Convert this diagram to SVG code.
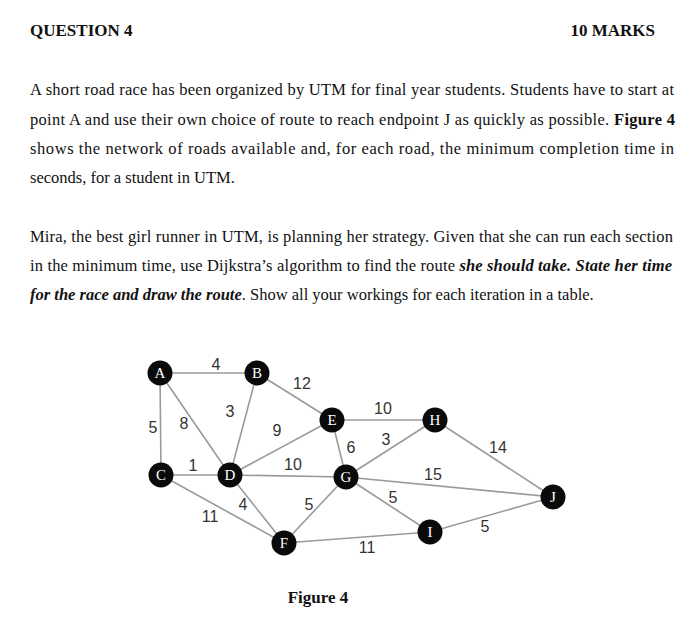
<svg xmlns="http://www.w3.org/2000/svg" width="700" height="632" viewBox="0 0 700 632">
<style>
.t{font-family:"Liberation Serif","Times New Roman",serif;font-size:16.5px;fill:#111}
.h{font-family:"Liberation Serif","Times New Roman",serif;font-size:17px;font-weight:bold;fill:#111}
.b{font-weight:bold}
.bi{font-weight:bold;font-style:italic}
.e{stroke:#9a9a9a;stroke-width:1.6;fill:none}
.n{fill:#0a0a0a}
.nl{font-family:"Liberation Serif","Times New Roman",serif;font-size:15px;fill:#fff;text-anchor:middle;dominant-baseline:central}
.w{font-family:"Liberation Sans",Arial,sans-serif;font-size:16px;fill:#333;text-anchor:middle;dominant-baseline:central}
</style>
<rect width="700" height="632" fill="#fff"/>
<g id="header">
<text class="h" x="30" y="36">QUESTION 4</text>
<text class="h" x="655" y="36" text-anchor="end">10 MARKS</text>
</g>
<g id="para1">
<text class="t" x="30" y="95" textLength="644" lengthAdjust="spacing">A short road race has been organized by UTM for final year students. Students have to start at</text>
<text class="t" x="30" y="125" textLength="645" lengthAdjust="spacing">point A and use their own choice of route to reach endpoint J as quickly as possible. <tspan class="b">Figure 4</tspan></text>
<text class="t" x="30" y="154" textLength="644" lengthAdjust="spacing">shows the network of roads available and, for each road, the minimum completion time in</text>
<text class="t" x="30" y="183">seconds, for a student in UTM.</text>
</g>
<g id="para2">
<text class="t" x="30" y="242" textLength="643" lengthAdjust="spacing">Mira, the best girl runner in UTM, is planning her strategy. Given that she can run each section</text>
<text class="t" x="30" y="271" textLength="642" lengthAdjust="spacing">in the minimum time, use Dijkstra’s algorithm to find the route <tspan class="bi">she should take. State her time</tspan></text>
<text class="t" x="30" y="300"><tspan class="bi">for the race and draw the route</tspan>.  Show all your workings for each iteration in a table.</text>
</g>
<g id="connectors">
<line class="e" x1="160" y1="373" x2="257" y2="373"/>
<line class="e" x1="160" y1="373" x2="161" y2="475"/>
<line class="e" x1="160" y1="373" x2="230" y2="475"/>
<line class="e" x1="257" y1="373" x2="230" y2="475"/>
<line class="e" x1="257" y1="373" x2="332" y2="420"/>
<line class="e" x1="161" y1="475" x2="230" y2="475"/>
<line class="e" x1="161" y1="475" x2="284" y2="543"/>
<line class="e" x1="230" y1="475" x2="332" y2="420"/>
<line class="e" x1="230" y1="475" x2="346" y2="477"/>
<line class="e" x1="230" y1="475" x2="284" y2="543"/>
<line class="e" x1="332" y1="420" x2="346" y2="477"/>
<line class="e" x1="332" y1="420" x2="435" y2="420"/>
<line class="e" x1="346" y1="477" x2="435" y2="420"/>
<line class="e" x1="346" y1="477" x2="553" y2="497"/>
<line class="e" x1="346" y1="477" x2="430" y2="532"/>
<line class="e" x1="346" y1="477" x2="284" y2="543"/>
<line class="e" x1="284" y1="543" x2="430" y2="532"/>
<line class="e" x1="435" y1="420" x2="553" y2="497"/>
<line class="e" x1="430" y1="532" x2="553" y2="497"/>
</g>
<g id="weights">
<text class="w" x="216" y="364">4</text>
<text class="w" x="302" y="383">12</text>
<text class="w" x="153" y="427">5</text>
<text class="w" x="184" y="423">8</text>
<text class="w" x="230" y="411">3</text>
<text class="w" x="277" y="430">9</text>
<text class="w" x="351" y="447">6</text>
<text class="w" x="193" y="465">1</text>
<text class="w" x="293" y="464">10</text>
<text class="w" x="243" y="504">4</text>
<text class="w" x="210" y="516">11</text>
<text class="w" x="309" y="504">5</text>
<text class="w" x="383" y="408">10</text>
<text class="w" x="386" y="439">3</text>
<text class="w" x="498" y="447">14</text>
<text class="w" x="433" y="474">15</text>
<text class="w" x="393" y="497">5</text>
<text class="w" x="485" y="526">5</text>
<text class="w" x="367" y="547">11</text>
</g>
<g id="node-A"><circle class="n" cx="160" cy="373" r="12.5"/><text class="nl" x="160" y="373">A</text></g>
<g id="node-B"><circle class="n" cx="257" cy="373" r="12.5"/><text class="nl" x="257" y="373">B</text></g>
<g id="node-C"><circle class="n" cx="161" cy="475" r="12.5"/><text class="nl" x="161" y="475">C</text></g>
<g id="node-D"><circle class="n" cx="230" cy="475" r="12.5"/><text class="nl" x="230" y="475">D</text></g>
<g id="node-E"><circle class="n" cx="332" cy="420" r="12.5"/><text class="nl" x="332" y="420">E</text></g>
<g id="node-F"><circle class="n" cx="284" cy="543" r="12.5"/><text class="nl" x="284" y="543">F</text></g>
<g id="node-G"><circle class="n" cx="346" cy="477" r="12.5"/><text class="nl" x="346" y="477">G</text></g>
<g id="node-H"><circle class="n" cx="435" cy="420" r="12.5"/><text class="nl" x="435" y="420">H</text></g>
<g id="node-I"><circle class="n" cx="430" cy="532" r="12.5"/><text class="nl" x="430" y="532">I</text></g>
<g id="node-J"><circle class="n" cx="553" cy="497" r="12.5"/><text class="nl" x="553" y="497">J</text></g>
<text class="h" x="318" y="603" text-anchor="middle" font-size="16">Figure 4</text>
</svg>
